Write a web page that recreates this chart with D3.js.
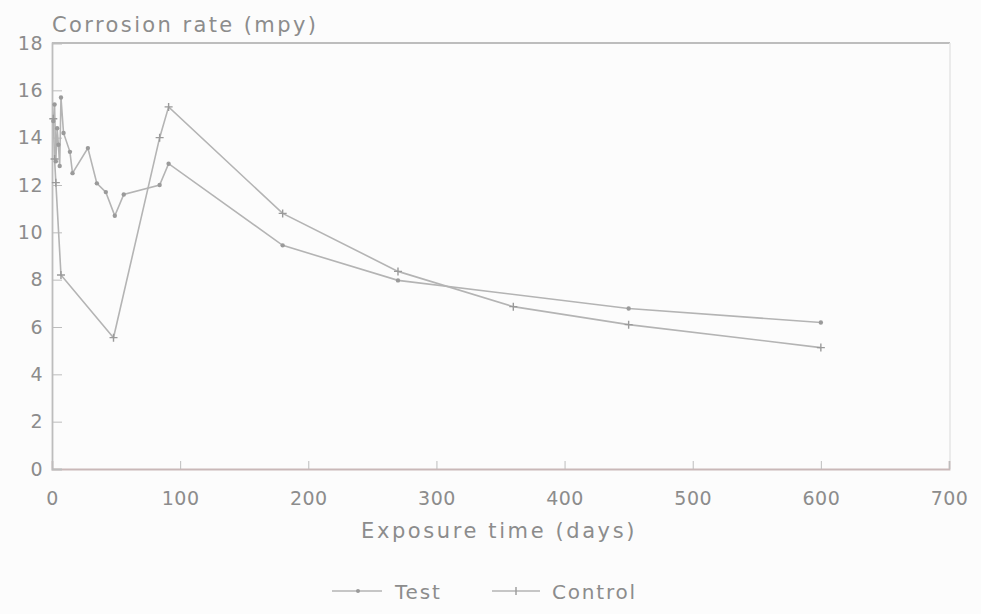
<!DOCTYPE html>
<html>
<head>
<meta charset="utf-8">
<script src="https://cdn.jsdelivr.net/npm/d3@7"></script>
<style>
  body { margin: 0; background: #fcfcfc; }
  svg text { font-family: "DejaVu Sans", "Liberation Sans", sans-serif; fill: #8c8c8c; }
</style>
</head>
<body>
<svg width="981" height="614"></svg>
<script>
// data
var testDays   = [1, 2, 3, 4, 5, 6, 7, 9, 14, 16, 28, 35, 42, 49, 56, 84, 91, 180, 270, 450, 600];
var testValues = [14.7, 15.4, 13.0, 14.4, 13.7, 12.8, 15.7, 14.2, 13.4, 12.5, 13.56, 12.07, 11.7, 10.7, 11.6, 12.0, 12.9, 9.45, 7.97, 6.78, 6.19];

var controlDays   = [1, 2, 3, 7, 48, 84, 91, 180, 270, 360, 450, 600];
var controlValues = [14.8, 13.1, 12.1, 8.2, 5.55, 14.0, 15.3, 10.8, 8.35, 6.86, 6.1, 5.13];

var xTicks = [0, 100, 200, 300, 400, 500, 600, 700];
var yTicks = [0, 2, 4, 6, 8, 10, 12, 14, 16, 18];

var svg = d3.select("svg");

var x = d3.scaleLinear().domain([0, 700]).range([52, 949]);
var y = d3.scaleLinear().domain([0, 18]).range([469, 43]);

// frame
svg.append("line").attr("x1", 52).attr("x2", 950).attr("y1", 43).attr("y2", 43)
  .attr("stroke", "#bdbdbd").attr("stroke-width", 2.2);
svg.append("line").attr("x1", 950).attr("x2", 950).attr("y1", 43).attr("y2", 469)
  .attr("stroke", "#e6e6e6").attr("stroke-width", 1.5);

// axes
var xAxis = svg.append("g")
  .attr("transform", "translate(0," + y(0) + ")")
  .call(d3.axisBottom(x).tickValues(xTicks).tickSize(-8).tickPadding(23));
var yAxis = svg.append("g")
  .attr("transform", "translate(" + x(0) + ",0)")
  .call(d3.axisLeft(y).tickValues(yTicks).tickSize(-10).tickPadding(9));

[xAxis, yAxis].forEach(function(g) {
  g.select(".domain").attr("stroke", "#bdbdbd").attr("stroke-width", 1.8);
  g.selectAll(".tick line").attr("stroke", "#bdbdbd");
  g.selectAll(".tick text").attr("font-size", 19).attr("letter-spacing", 0.5)
    .attr("fill", "#8c8c8c").attr("font-family", "DejaVu Sans");
});
xAxis.select(".domain").attr("stroke", "#c9b8b8");

// axis titles
svg.append("text").attr("x", 52).attr("y", 32).attr("font-size", 21)
  .attr("letter-spacing", 2.4).text("Corrosion rate (mpy)");
svg.append("text").attr("x", 499).attr("y", 538).attr("text-anchor", "middle")
  .attr("font-size", 21).attr("letter-spacing", 2.6).text("Exposure time (days)");

var line = d3.line()
  .x(function(d) { return x(d[0]); })
  .y(function(d) { return y(d[1]); });

var testData = d3.zip(testDays, testValues);
var controlData = d3.zip(controlDays, controlValues);

svg.append("path").datum(controlData).attr("d", line)
  .attr("fill", "none").attr("stroke", "#b4b4b4").attr("stroke-width", 1.6);
svg.append("path").datum(testData).attr("d", line)
  .attr("fill", "none").attr("stroke", "#b4b4b4").attr("stroke-width", 1.6);

// markers
svg.selectAll(".tmark").data(testData).enter().append("circle")
  .attr("class", "tmark")
  .attr("cx", function(d) { return x(d[0]); })
  .attr("cy", function(d) { return y(d[1]); })
  .attr("r", 2.2).attr("fill", "#9a9a9a");

svg.selectAll(".cmark").data(controlData).enter().append("path")
  .attr("class", "cmark")
  .attr("d", function(d) {
    var cx = x(d[0]), cy = y(d[1]);
    return "M" + (cx - 4) + "," + cy + "H" + (cx + 4) + "M" + cx + "," + (cy - 4) + "V" + (cy + 4);
  })
  .attr("stroke", "#9a9a9a").attr("stroke-width", 1.4);

// legend
var lg = svg.append("g");
lg.append("line").attr("x1", 332).attr("x2", 382).attr("y1", 591).attr("y2", 591)
  .attr("stroke", "#b4b4b4").attr("stroke-width", 1.6);
lg.append("circle").attr("cx", 358).attr("cy", 591).attr("r", 2).attr("fill", "#9a9a9a");
lg.append("text").attr("x", 395).attr("y", 599).attr("font-size", 20)
  .attr("letter-spacing", 1.8).text("Test");
lg.append("line").attr("x1", 492).attr("x2", 540).attr("y1", 591).attr("y2", 591)
  .attr("stroke", "#b4b4b4").attr("stroke-width", 1.6);
lg.append("path").attr("d", "M516,587V595").attr("stroke", "#9a9a9a").attr("stroke-width", 1.4);
lg.append("text").attr("x", 552).attr("y", 599).attr("font-size", 20)
  .attr("letter-spacing", 1.8).text("Control");
</script>
</body>
</html>
